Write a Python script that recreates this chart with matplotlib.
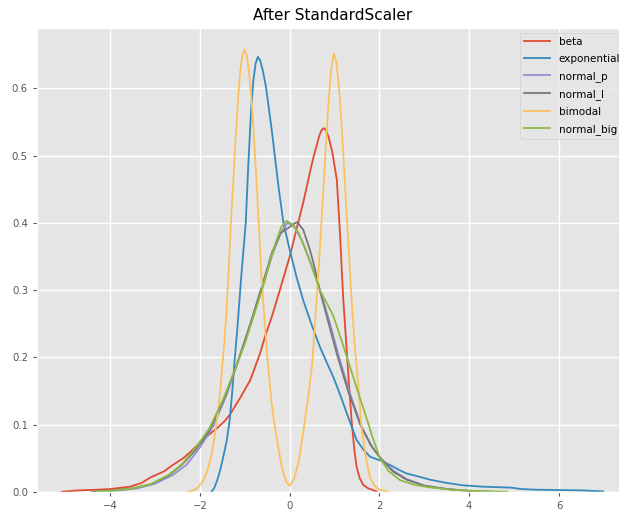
import numpy as np
import matplotlib
matplotlib.use("Agg")
import matplotlib.pyplot as plt

plt.style.use("ggplot")

# density curves (x, density)
beta_x = [-5.08, -4.7, -4.3, -4.0, -3.56, -3.3, -3.11, -2.81, -2.6, -2.37, -2.2, -2.0,
          -1.8, -1.63, -1.45, -1.33, -1.1, -0.88, -0.66, -0.55, -0.4, -0.22, 0.0, 0.15,
          0.3, 0.45, 0.53, 0.6, 0.66, 0.71, 0.76, 0.81, 0.87, 0.95, 1.05, 1.12, 1.19, 1.25,
          1.31, 1.38, 1.44, 1.49, 1.56, 1.64, 1.75, 1.86, 1.94]
beta_y = [0.0, 0.002, 0.003, 0.004, 0.0075, 0.013, 0.021, 0.03, 0.04, 0.05, 0.06, 0.073,
          0.085, 0.094, 0.105, 0.115, 0.14, 0.166, 0.206, 0.231, 0.26, 0.30, 0.35, 0.39,
          0.43, 0.475, 0.498, 0.515, 0.53, 0.538, 0.541, 0.538, 0.527, 0.505, 0.464, 0.385,
          0.29, 0.23, 0.17, 0.105, 0.062, 0.037, 0.02, 0.010, 0.005, 0.0025, 0.0]

exp_x = [-1.74, -1.68, -1.62, -1.55, -1.48, -1.40, -1.34, -1.29, -1.22, -1.17, -1.08,
         -0.98, -0.92, -0.86, -0.81, -0.76, -0.71, -0.66, -0.6, -0.53, -0.40, -0.25, -0.14,
         0.0, 0.15, 0.30, 0.48, 0.67, 0.82, 0.97, 1.12, 1.27, 1.49, 1.65, 1.79, 2.0, 2.23,
         2.45, 2.61, 2.85, 3.12, 3.5, 3.87, 4.3, 4.76, 4.95, 5.15, 5.5, 6.0, 6.5, 6.98]
exp_y = [0.0, 0.006, 0.016, 0.032, 0.052, 0.077, 0.105, 0.141, 0.201, 0.24, 0.32,
         0.40, 0.49, 0.568, 0.612, 0.637, 0.647, 0.642, 0.627, 0.603, 0.538, 0.454, 0.40,
         0.36, 0.32, 0.285, 0.25, 0.216, 0.193, 0.171, 0.145, 0.117, 0.077, 0.062, 0.052,
         0.047, 0.040, 0.032, 0.027, 0.023, 0.018, 0.013, 0.0095, 0.0075, 0.0065, 0.006,
         0.004, 0.003, 0.0025, 0.002, 0.0005]

normal_p_x = [-4.2, -3.8, -3.4, -3.0, -2.6, -2.3, -2.0, -1.7, -1.4, -1.12, -0.85, -0.6,
              -0.4, -0.2, -0.05, 0.1, 0.3, 0.5, 0.7, 0.9, 1.1, 1.35, 1.6, 1.85, 2.05, 2.3,
              2.6, 3.0, 3.5, 4.0, 4.5]
normal_p_y = [0.0, 0.002, 0.005, 0.012, 0.025, 0.04, 0.066, 0.098, 0.145, 0.2, 0.255, 0.305,
              0.35, 0.385, 0.40, 0.395, 0.37, 0.335, 0.295, 0.25, 0.2, 0.145, 0.097, 0.065,
              0.048, 0.032, 0.019, 0.009, 0.004, 0.0015, 0.0]

normal_l_x = [-4.4, -4.0, -3.5, -3.1, -2.7, -2.4, -2.1, -1.8, -1.5, -1.2, -0.9, -0.6, -0.4,
              -0.2, 0.0, 0.1, 0.17, 0.3, 0.45, 0.55, 0.67, 0.85, 1.05, 1.3, 1.57, 1.8, 2.0,
              2.3, 2.6, 3.0, 3.5, 4.0, 4.4]
normal_l_y = [0.0, 0.002, 0.005, 0.011, 0.024, 0.04, 0.062, 0.09, 0.132, 0.185, 0.245, 0.31,
              0.355, 0.385, 0.394, 0.399, 0.401, 0.39, 0.36, 0.335, 0.30, 0.255, 0.205, 0.15,
              0.1, 0.07, 0.052, 0.03, 0.018, 0.009, 0.004, 0.001, 0.0]

bimodal_x = [-2.25, -2.15, -2.05, -1.95, -1.85, -1.75, -1.66, -1.56, -1.46, -1.41, -1.36,
             -1.31, -1.26, -1.21, -1.16, -1.11, -1.06, -1.01, -0.96, -0.91, -0.86, -0.81,
             -0.76, -0.71, -0.66, -0.61, -0.55, -0.5, -0.45, -0.4, -0.35, -0.29, -0.22,
             -0.15, -0.07, 0.0, 0.1, 0.2, 0.3, 0.4, 0.5, 0.6, 0.68, 0.75, 0.8, 0.86, 0.92,
             0.98, 1.04, 1.1, 1.16, 1.23, 1.3, 1.38, 1.45, 1.5, 1.55, 1.6, 1.7, 1.79, 1.9,
             2.0, 2.2]
bimodal_y = [0.0, 0.002, 0.006, 0.014, 0.028, 0.052, 0.088, 0.14, 0.22, 0.265, 0.33,
             0.40, 0.46, 0.52, 0.575, 0.62, 0.648, 0.658, 0.65, 0.626, 0.59, 0.542,
             0.485, 0.424, 0.36, 0.30, 0.245, 0.2, 0.165, 0.13, 0.105, 0.08, 0.052,
             0.03, 0.014, 0.009, 0.02, 0.045, 0.088, 0.135, 0.19, 0.285, 0.37, 0.45, 0.51,
             0.575, 0.625, 0.652, 0.64, 0.60, 0.54, 0.46, 0.375, 0.285, 0.215, 0.18, 0.14,
             0.095, 0.05, 0.02, 0.008, 0.003, 0.0]

normal_big_x = [-4.3, -3.9, -3.5, -3.1, -2.7, -2.4, -2.1, -1.8, -1.5, -1.2, -1.0, -0.8,
                -0.62, -0.45, -0.3, -0.18, -0.07, 0.05, 0.2, 0.35, 0.49, 0.67, 0.83, 0.97,
                1.12, 1.3, 1.49, 1.71, 1.85, 2.01, 2.2, 2.46, 2.8, 3.12, 3.6, 4.2, 4.84]
normal_big_y = [0.0, 0.002, 0.005, 0.011, 0.025, 0.041, 0.065, 0.093, 0.135, 0.185, 0.22,
                0.262, 0.30, 0.34, 0.373, 0.395, 0.403, 0.398, 0.385, 0.36, 0.335, 0.30, 0.28,
                0.262, 0.232, 0.195, 0.155, 0.11, 0.08, 0.05, 0.031, 0.017, 0.01, 0.0065,
                0.003, 0.001, 0.0]

labels = ["beta", "exponential", "normal_p", "normal_l", "bimodal", "normal_big"]
curves = [(beta_x, beta_y), (exp_x, exp_y), (normal_p_x, normal_p_y),
          (normal_l_x, normal_l_y), (bimodal_x, bimodal_y), (normal_big_x, normal_big_y)]

fig = plt.figure(figsize=(6.19, 5.12), dpi=100)
# axes runs a bit past the right edge, like the cropped original
ax = fig.add_axes([0.0598, 0.0396, 0.9564, 0.9057])

for (x, y), lab in zip(curves, labels):
    ax.plot(x, y, label=lab, linewidth=1.3)

ax.set_xlim(-5.63, 7.56)
ax.set_ylim(0, 0.69)
ax.set_xticks([-4, -2, 0, 2, 4, 6])
ax.set_yticks([0.0, 0.1, 0.2, 0.3, 0.4, 0.5, 0.6])
ax.tick_params(labelsize=7.3, colors="#555555", length=3)
ax.grid(color="white", linewidth=1.0)

ax.set_title("After StandardScaler", fontsize=11, pad=6)
ax.legend(loc="upper right", fontsize=7.5, handlelength=2.5, borderaxespad=0.45,
          labelspacing=0.68)

fig.savefig("out.png", dpi=100)
